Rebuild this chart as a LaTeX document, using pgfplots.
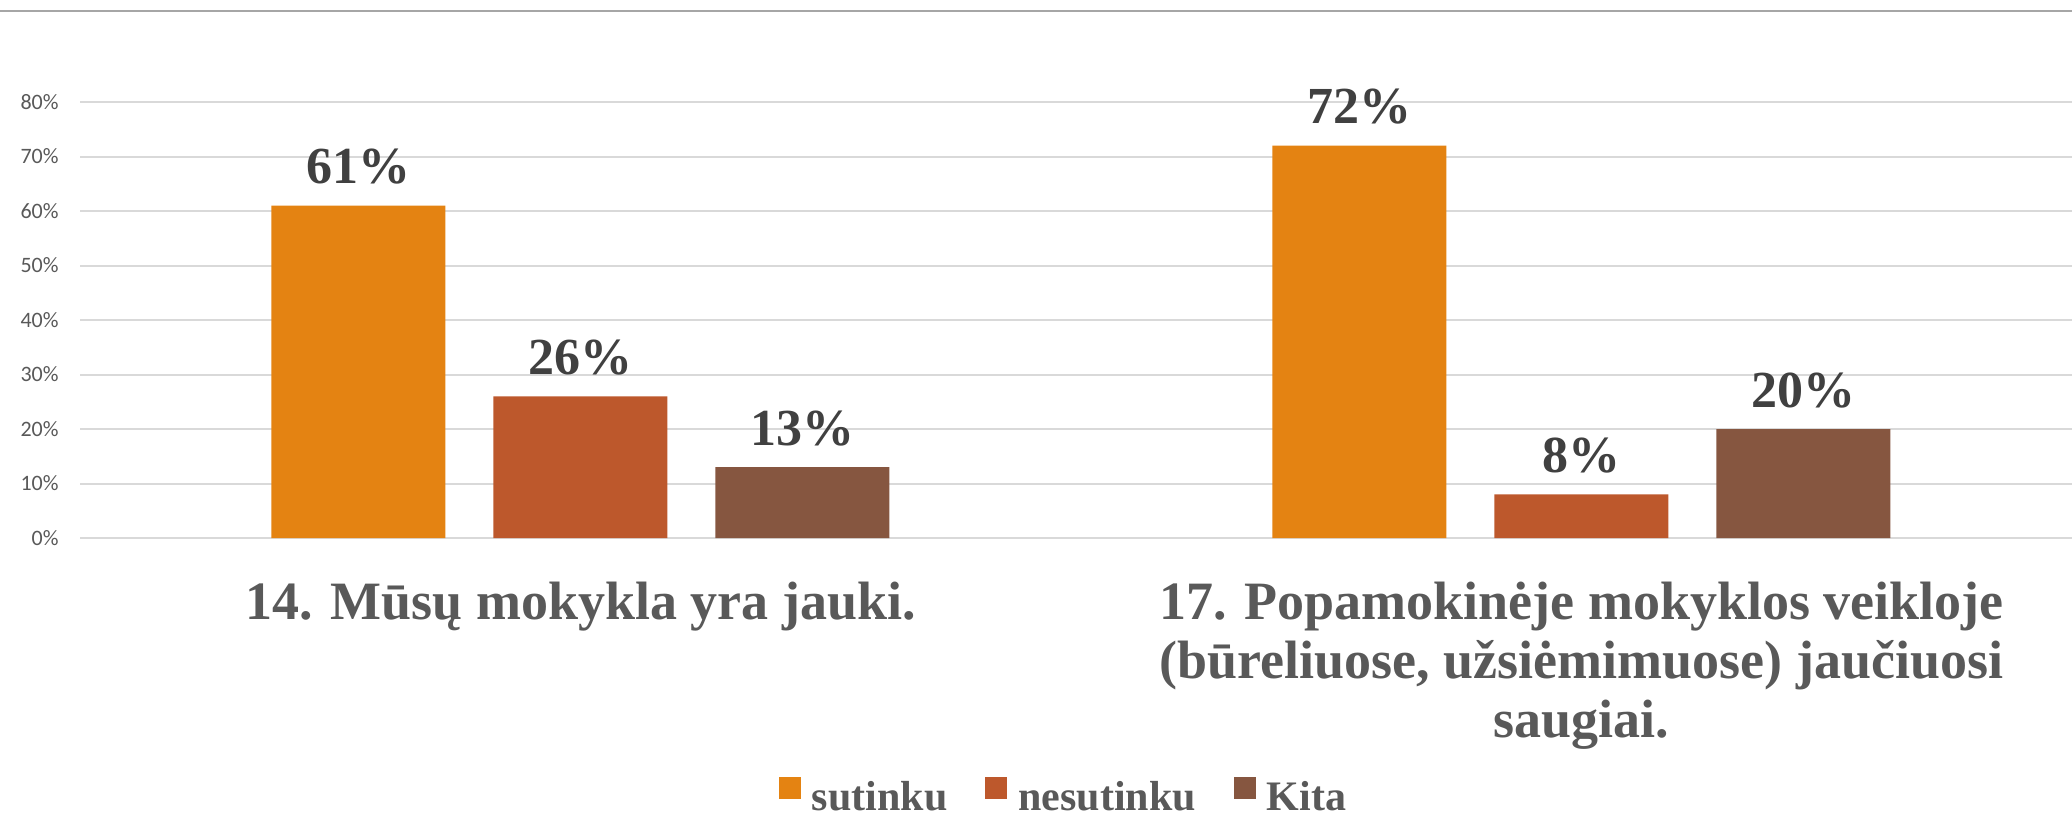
\documentclass[border=0pt]{standalone}
\usepackage{fontspec}
\setmainfont{Liberation Serif}
\newfontfamily\carlito{Carlito}
\usepackage{pgfplots}
\pgfplotsset{compat=1.18}
\definecolor{cOr}{HTML}{E48312}
\definecolor{cRd}{HTML}{BD582C}
\definecolor{cBr}{HTML}{865640}
\definecolor{gridc}{HTML}{D9D9D9}
\definecolor{tickc}{HTML}{595959}
\definecolor{labc}{HTML}{404040}
\definecolor{topc}{HTML}{A6A6A6}
\newcommand\catlab[1]{\begin{tabular}[t]{@{}c@{}}#1\end{tabular}}
\begin{document}
\begin{tikzpicture}
\useasboundingbox (0,0) rectangle (1036pt,408pt);
\clip (0,0) rectangle (1036pt,408pt);
\draw[topc, line width=1pt] (0,402.5pt) -- (1036pt,402.5pt);
\begin{axis}[
  at={(40pt,139pt)}, anchor=south west,
  scale only axis, width=1001pt, height=218pt,
  xmin=-0.5, xmax=1.5, ymin=0, ymax=80,
  ybar=24pt, bar width=87pt,
  clip=false,
  axis line style={draw=none},
  major tick length=0pt,
  xtick={0,1},
  xticklabels={{\catlab{14. Mūsų mokykla yra jauki.}},
               {\catlab{17. Popamokinėje mokyklos veikloje\\(būreliuose, užsiėmimuose) jaučiuosi\\saugiai.}}},
  xticklabel style={font=\fontsize{27}{29.5}\selectfont\bfseries, text=tickc, anchor=base, inner sep=0pt, yshift=-40.5pt},
  ytick={0,10,20,30,40,50,60,70,80},
  yticklabels={0\%,10\%,20\%,30\%,40\%,50\%,60\%,70\%,80\%},
  yticklabel style={font=\fontsize{11}{13}\carlito, text=tickc, anchor=east, inner sep=0pt, xshift=-10.5pt},
  ymajorgrids,
  grid style={line width=1pt, color=gridc},
  nodes near coords={\pgfmathprintnumber[assume math mode=true]{\pgfplotspointmeta}\%},
  every node near coord/.append style={font=\fontsize{26}{30}\selectfont\bfseries, text=labc, anchor=base, inner sep=0pt, yshift=11pt},
  legend columns=3,
  legend style={at={(0.34915,-0.6330)}, anchor=south west, draw=none, fill=none,
    inner sep=0pt, outer sep=0pt, font=\fontsize{21}{24}\selectfont\bfseries, text=tickc,
    column sep=0pt, nodes={inner sep=0pt},
    /tikz/every even column/.append style={column sep=19pt}},
  legend image code/.code={\fill[#1] (0pt,-0.5pt) rectangle (11pt,10.5pt); \path (16.5pt,0pt);},
]
\addplot[fill=cOr, draw=none] coordinates {(0,61) (1,72)};
\addplot[fill=cRd, draw=none] coordinates {(0,26) (1,8)};
\addplot[fill=cBr, draw=none] coordinates {(0,13) (1,20)};
\legend{sutinku, nesutinku, Kita}
\end{axis}
\end{tikzpicture}
\end{document}
